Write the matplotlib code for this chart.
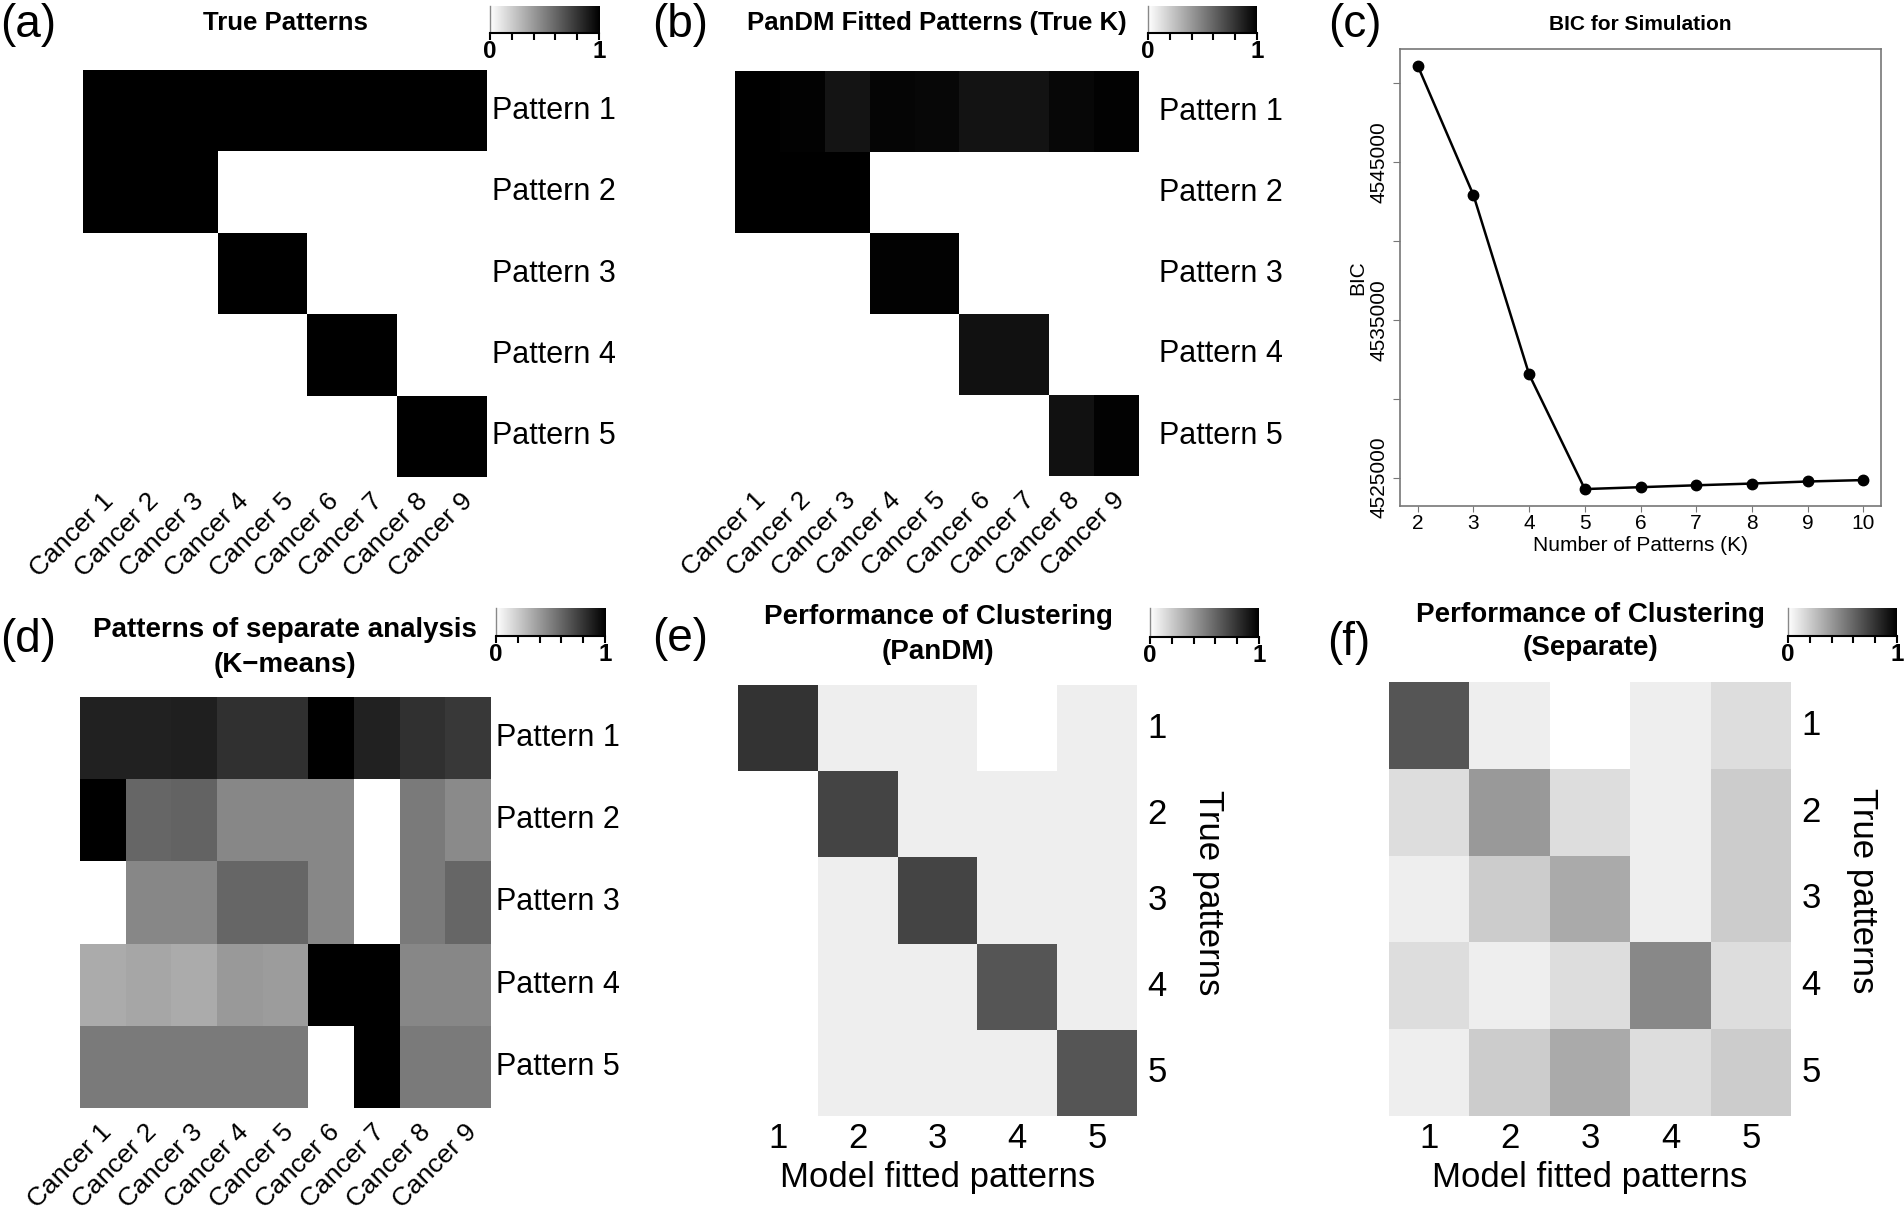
import numpy as np
import matplotlib
matplotlib.use('Agg')
import matplotlib.pyplot as plt
import matplotlib.transforms as mtransforms
from matplotlib.colors import LinearSegmentedColormap

plt.rcParams['font.family'] = ['Liberation Sans', 'DejaVu Sans']

W, H = 1904, 1216

cancers = [f'Cancer {i}' for i in range(1, 10)]
patterns = [f'Pattern {i}' for i in range(1, 6)]
cluster_ids = ['1', '2', '3', '4', '5']

# 0 = white, 1 = black
true_patterns = [
    [1, 1, 1, 1, 1, 1, 1, 1, 1],
    [1, 1, 1, 0, 0, 0, 0, 0, 0],
    [0, 0, 0, 1, 1, 0, 0, 0, 0],
    [0, 0, 0, 0, 0, 1, 1, 0, 0],
    [0, 0, 0, 0, 0, 0, 0, 1, 1],
]
pandm_patterns = [
    [1.0, 0.99, 0.92, 0.98, 0.97, 0.925, 0.925, 0.97, 0.99],
    [1.0, 1.0, 1.0, 0, 0, 0, 0, 0, 0],
    [0, 0, 0, 0.99, 0.99, 0, 0, 0, 0],
    [0, 0, 0, 0, 0, 0.93, 0.93, 0, 0],
    [0, 0, 0, 0, 0, 0, 0, 0.93, 0.99],
]
kmeans_patterns = [
    [0.87, 0.87, 0.875, 0.81, 0.81, 1.0, 0.87, 0.81, 0.78],
    [1.0, 0.60, 0.61, 0.47, 0.47, 0.47, 0.0, 0.52, 0.46],
    [0.0, 0.47, 0.47, 0.60, 0.60, 0.47, 0.0, 0.52, 0.60],
    [0.33, 0.35, 0.33, 0.40, 0.39, 1.0, 1.0, 0.47, 0.47],
    [0.52, 0.52, 0.52, 0.52, 0.52, 0.0, 1.0, 0.52, 0.52],
]
pandm_perf = [
    [0.80, 0.067, 0.067, 0.0, 0.067],
    [0.0, 0.733, 0.067, 0.067, 0.067],
    [0.0, 0.067, 0.733, 0.067, 0.067],
    [0.0, 0.067, 0.067, 0.667, 0.067],
    [0.0, 0.067, 0.067, 0.067, 0.667],
]
separate_perf = [
    [0.667, 0.067, 0.0, 0.067, 0.133],
    [0.133, 0.40, 0.133, 0.067, 0.20],
    [0.067, 0.20, 0.333, 0.067, 0.20],
    [0.133, 0.067, 0.133, 0.467, 0.133],
    [0.067, 0.20, 0.333, 0.133, 0.20],
]

bic_k = [2, 3, 4, 5, 6, 7, 8, 9, 10]
bic_values = [4551080, 4542890, 4531530, 4524270, 4524390,
              4524510, 4524620, 4524750, 4524840]
bic_ticks = [4525000, 4530000, 4535000, 4540000, 4545000, 4550000]
bic_ticklabels = ['4525000', '', '4535000', '', '4545000', '']

cbar_ticks = [0, 0.2, 0.4, 0.6, 0.8, 1]
cbar_labels = ['0', '', '', '', '', '1']

grey = LinearSegmentedColormap.from_list('wb', ['white', 'black'])

fig = plt.figure(figsize=(W / 100, H / 100), dpi=100)


def px_rect(x0, y0, x1, y1):
    return [x0 / W, 1 - y1 / H, (x1 - x0) / W, (y1 - y0) / H]


def ftext(x, y, s, **kw):
    fig.text(x / W, 1 - y / H, s, **kw)


def shifted(ax, dx, dy):
    # dx, dy in pixels, dy positive = down
    return ax.transData + mtransforms.ScaledTranslation(dx / 100, -dy / 100, fig.dpi_scale_trans)


def draw_heat(rect, data):
    ax = fig.add_axes(px_rect(*rect))
    data = np.array(data, dtype=float)
    nr, nc = data.shape
    ax.pcolormesh(np.arange(nc + 1), np.arange(nr + 1), data, cmap=grey, vmin=0, vmax=1)
    ax.set_xlim(0, nc)
    ax.set_ylim(nr, 0)
    ax.axis('off')
    return ax


def cancer_heat(rect, data, gap):
    ax = draw_heat(rect, data)
    for j, name in enumerate(cancers):
        ax.text(j + 0.5, len(patterns), name, rotation=45, ha='right', va='top',
                rotation_mode='anchor', fontsize=19, transform=shifted(ax, -4, 12))
    for i, name in enumerate(patterns):
        ax.text(len(cancers), i + 0.5, name, ha='left', va='center', fontsize=22,
                transform=shifted(ax, gap, 0))


def cluster_heat(rect, data):
    ax = draw_heat(rect, data)
    n = len(cluster_ids)
    for j, c in enumerate(cluster_ids):
        ax.text(j + 0.5, n, c, ha='center', va='center', fontsize=25, transform=shifted(ax, 0, 22))
    for i, c in enumerate(cluster_ids):
        ax.text(n, i + 0.5, c, ha='center', va='center', fontsize=25, transform=shifted(ax, 20, 0))
    ax.text(n / 2, n, 'Model fitted patterns', ha='center', va='center', fontsize=25,
            transform=shifted(ax, 0, 61))
    ax.text(n, n / 2, 'True patterns', rotation=-90, ha='center', va='center', fontsize=25,
            transform=shifted(ax, 71, -8))


def colorbar(rect):
    cax = fig.add_axes(px_rect(*rect))
    cax.imshow(np.linspace(0, 1, 256)[None, :], cmap=grey, aspect='auto', extent=(0, 1, 0, 1))
    cax.set_xlim(0, 1)
    cax.set_ylim(0, 1)
    cax.set_yticks([])
    cax.set_xticks(cbar_ticks, cbar_labels)
    cax.tick_params(axis='x', direction='out', length=5, width=1.5, pad=0, labelsize=17.5)
    for t in cax.get_xticklabels():
        t.set_fontweight('bold')
    cax.spines['top'].set_visible(False)
    cax.spines['right'].set_visible(False)
    cax.spines['left'].set_color('#888888')
    cax.spines['left'].set_linewidth(1)
    cax.spines['bottom'].set_linewidth(1.5)


# (a)
cancer_heat((83, 70, 487, 477), true_patterns, 5)
colorbar((490, 6, 599, 33))
ftext(285, 23, 'True Patterns', ha='center', va='center', fontsize=18.5, fontweight='bold')
ftext(0, 25, '(a)', ha='left', va='center', fontsize=33)

# (b)
cancer_heat((735, 71, 1139, 476), pandm_patterns, 20)
colorbar((1148, 6, 1257, 33))
ftext(937, 23, 'PanDM Fitted Patterns (True K)', ha='center', va='center', fontsize=18.5, fontweight='bold')
ftext(652, 25, '(b)', ha='left', va='center', fontsize=33)

# (c)
ax = fig.add_axes(px_rect(1400, 49, 1881, 506))
ax.plot(bic_k, bic_values, color='black', lw=1.8, marker='o', ms=7.5)
ax.margins(x=0.04, y=0.04)
ax.set_xticks(bic_k)
ax.set_yticks(bic_ticks, bic_ticklabels, rotation=90, va='center')
ax.tick_params(axis='y', length=5, color='#777777', pad=3, labelsize=15)
ax.tick_params(axis='x', length=4, color='#777777', pad=2, labelsize=15)
for s in ax.spines.values():
    s.set_color('#777777')
    s.set_linewidth(1.2)
ax.set_xlabel('Number of Patterns (K)', fontsize=15, labelpad=2)
ax.set_ylabel('BIC', fontsize=15, labelpad=2)
ftext(1640, 24, 'BIC for Simulation', ha='center', va='center', fontsize=15, fontweight='bold')
ftext(1328, 25, '(c)', ha='left', va='center', fontsize=33)

# (d)
cancer_heat((80, 697, 491, 1108), kmeans_patterns, 5)
colorbar((496, 608, 605, 636))
ftext(285, 630, 'Patterns of separate analysis', ha='center', va='center', fontsize=20, fontweight='bold')
ftext(285, 665, '(K\u2212means)', ha='center', va='center', fontsize=20, fontweight='bold')
ftext(0, 640, '(d)', ha='left', va='center', fontsize=33)

# (e)
cluster_heat((738, 685, 1137, 1116), pandm_perf)
colorbar((1150, 608, 1259, 637))
ftext(938, 617, 'Performance of Clustering', ha='center', va='center', fontsize=20, fontweight='bold')
ftext(938, 652, '(PanDM)', ha='center', va='center', fontsize=20, fontweight='bold')
ftext(652, 639, '(e)', ha='left', va='center', fontsize=33)

# (f)
cluster_heat((1389, 682, 1791, 1116), separate_perf)
colorbar((1788, 608, 1897, 636))
ftext(1590, 615, 'Performance of Clustering', ha='center', va='center', fontsize=20, fontweight='bold')
ftext(1590, 648, '(Separate)', ha='center', va='center', fontsize=20, fontweight='bold')
ftext(1327, 643, '(f)', ha='left', va='center', fontsize=33)

fig.savefig('out.png', dpi=100)
